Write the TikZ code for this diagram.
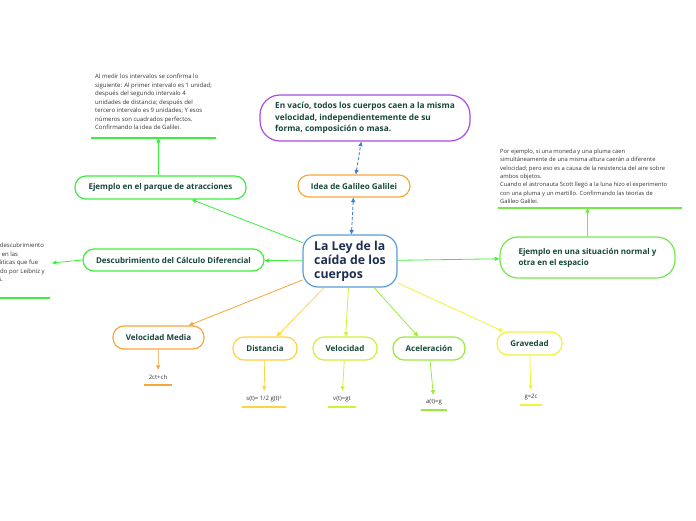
\documentclass[tikz,border=0pt]{standalone}
\usepackage{fontspec}
\setmainfont{Open Sans}
\usetikzlibrary{arrows.meta}
\definecolor{cBlue}{HTML}{5B9BD5}
\definecolor{cPurple}{HTML}{A94BE6}
\definecolor{cOrange}{HTML}{F7A63B}
\definecolor{cDist}{HTML}{FFD23F}
\definecolor{cVel}{HTML}{CCF23A}
\definecolor{cAcel}{HTML}{9BEA3A}
\definecolor{cGrav}{HTML}{F2F23A}
\definecolor{cGreen}{HTML}{3BEF3B}
\definecolor{cSit}{HTML}{72E84C}
\definecolor{cDash}{HTML}{3A80D9}
\definecolor{ntext}{HTML}{17473A}
\definecolor{ctext}{HTML}{1F2D50}
\definecolor{stext}{HTML}{333333}
\begin{document}
\begin{tikzpicture}[x=1pt,y=-1pt,
  box/.style={draw, fill=white, line width=1.2pt, rounded corners=11pt,
    font=\bfseries\fontsize{8}{9}\selectfont, text=ntext, inner sep=0pt, align=center,
    minimum height=23pt},
  conn/.style={line width=0.8pt, -{Triangle[length=4.5pt,width=4pt]}},
  dconn/.style={line width=0.9pt, dash pattern=on 3pt off 2pt, draw=cDash,
    {Triangle[length=4.5pt,width=4pt]}-{Triangle[length=4.5pt,width=4pt]}},
  txt/.style={font=\fontsize{6}{8.5}\selectfont, text=stext, align=left, inner sep=0pt},
  val/.style={font=\fontsize{6}{7}\selectfont, text=stext, inner sep=0pt, minimum height=15pt},
  uline/.style={line width=1.5pt}
]
\useasboundingbox (0,0) rectangle (696,520);

% central
\node[box, draw=cBlue, rounded corners=15pt, minimum width=94pt, minimum height=52pt,
  align=left, text=ctext, font=\bfseries\fontsize{12.3}{13.8}\selectfont] (c) at (350,261)
  {La Ley de la\\caída de los\\cuerpos};

% top
\node[box, draw=cPurple, rounded corners=20pt, minimum width=210pt, minimum height=46pt,
  align=left, font=\bfseries\fontsize{8.3}{11.5}\selectfont] (vac) at (365,118)
  {En vacío, todos los cuerpos caen a la misma\\velocidad, independientemente de su\\forma, composición o masa.};
\node[box, draw=cOrange, minimum width=112pt, minimum height=22pt] (idea) at (354,186) {Idea de Galileo Galilei};

% left
\node[box, draw=cGreen, minimum width=171pt] (parque) at (160.5,187.5) {Ejemplo en el parque de atracciones};
\node[box, draw=cGreen, minimum width=181pt, minimum height=22pt] (desc) at (173.5,260) {Descubrimiento del Cálculo Diferencial};

% right
\node[box, draw=cSit, rounded corners=18pt, minimum width=175pt, minimum height=41pt, align=left,
  font=\bfseries\fontsize{8}{11}\selectfont] (sit) at (587.5,257.5)
  {Ejemplo en una situación normal y\\otra en el espacio};

% bottom
\node[box, draw=cOrange, minimum width=91pt] (vm) at (158.5,337.5) {Velocidad Media};
\node[box, draw=cDist, minimum width=64pt] (dist) at (265,348.5) {Distancia};
\node[box, draw=cVel, minimum width=64pt] (vel) at (345,348.5) {Velocidad};
\node[box, draw=cAcel, minimum width=72pt] (acel) at (429,348.5) {Aceleración};
\node[box, draw=cGrav, minimum width=65pt] (grav) at (529.5,343.5) {Gravedad};

% values
\node[val, minimum width=28pt] (vmv) at (158,377.5) {2ct+ch};
\node[val, minimum width=44pt, minimum height=16pt] (distv) at (264,399) {s(t)= 1/2 g(t)²};
\node[val, minimum width=28pt, minimum height=16pt] (velv) at (342,399) {v(t)=gt};
\node[val, minimum width=26pt] (acelv) at (434,402.5) {a(t)=g};
\node[val, minimum width=22pt] (gravv) at (531,397.5) {g=2c};
\draw[uline, cOrange] (vmv.south west) -- (vmv.south east);
\draw[uline, cDist] (distv.south west) -- (distv.south east);
\draw[uline, cVel] (velv.south west) -- (velv.south east);
\draw[uline, cAcel] (acelv.south west) -- (acelv.south east);
\draw[uline, cGrav] (gravv.south west) -- (gravv.south east);

% text blocks
\node[txt, anchor=north west] (tA) at (95,74.1)
  {Al medir los intervalos se confirma lo\\siguiente: Al primer intervalo es 1 unidad;\\después del segundo intervalo 4\\unidades de distancia; después del\\tercero intervalo es 9 unidades; Y esos\\números son cuadrados perfectos.\\Confirmando la idea de Galilei.};
\coordinate (uA1) at (91,138);
\coordinate (uA2) at (216,138);
\draw[uline, cGreen] (uA1) -- (uA2);

\node[txt, anchor=north west, font=\fontsize{5.8}{8.4}\selectfont] (tC) at (500,148.6)
  {Por ejemplo, si una moneda y una pluma caen\\simultáneamente de una misma altura caerán a diferente\\velocidad; pero eso es a causa de la resistencia del aire sobre\\ambos objetos.\\Cuando el astronauta Scott llegó a la luna hizo el experimento\\con una pluma y un martillo. Confirmando las teorías de\\Galileo Galilei.};
\coordinate (uC1) at (498,208);
\coordinate (uC2) at (682,208);
\draw[uline, cSit] (uC1) -- (uC2);

\node[txt, anchor=north west] (tB) at (-21,242.8)
  {Con su descubrimiento\\se basa en las\\matemáticas que fue\\planteado por Leibniz y\\muchos.};
\coordinate (uB1) at (-80,298);
\coordinate (uB2) at (50,298);
\draw[uline, cGreen] (uB1) -- (uB2);
\coordinate (dA) at (52,263);

% connectors
\draw[dconn] (idea) -- (vac);
\draw[dconn] (c) -- (idea);
\draw[conn, cGreen] (c) -- (parque);
\draw[conn, cGreen] (c) -- (desc);
\draw[conn, cGreen] (c) -- (sit);
\draw[conn, cOrange] (c) -- (vm);
\draw[conn, cDist] (c) -- (dist);
\draw[conn, cVel] (c) -- (vel);
\draw[conn, cAcel] (c) -- (acel);
\draw[conn, cGrav] (c) -- (grav);
\draw[conn, cGreen] ([xshift=-2pt]parque.north) -- ([xshift=-2pt]parque.north |- uA1);
\draw[conn, cGreen] (desc.west) -- (dA);
\draw[conn, cSit] (sit.north) -- (sit.north |- uC1);
\draw[conn, cOrange] (vm) -- (vmv);
\draw[conn, cDist] (dist) -- (distv);
\draw[conn, cVel] (vel) -- (velv);
\draw[conn, cAcel] (acel) -- (acelv);
\draw[conn, cGrav] (grav) -- (gravv);
\end{tikzpicture}
\end{document}
